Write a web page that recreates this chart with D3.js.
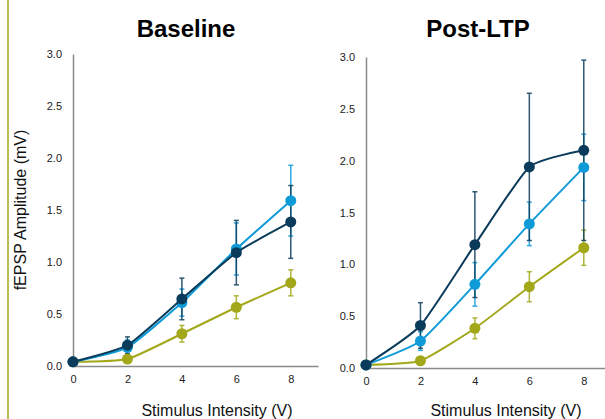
<!DOCTYPE html>
<html>
<head>
<meta charset="utf-8">
<script src="https://cdn.jsdelivr.net/npm/d3@7"></script>
<style>
  html, body { margin: 0; padding: 0; background: #fff; }
  svg { display: block; font-family: "Liberation Sans", Arial, sans-serif; }
</style>
</head>
<body>
<svg id="chart" width="605" height="419"></svg>
<script>
// ---- data ----
const intensities = [0, 2, 4, 6, 8];
const xTicks = [0, 2, 4, 6, 8];
const yTicks = [0, 0.5, 1.0, 1.5, 2.0, 2.5, 3.0];
const panelTitles = ["Baseline", "Post-LTP"];
const seriesNames = ["Series A", "Series B", "Series C"];
const seriesColors = ["#a2a819", "#0f9bd7", "#0b3b5b"];

// Baseline
const baseOlive = [0.04, 0.067, 0.31, 0.565, 0.80];
const baseOliveErr = [0.01, 0.02, 0.08, 0.11, 0.125];
const baseLight = [0.04, 0.18, 0.61, 1.125, 1.59];
const baseLightErr = [0.01, 0.07, 0.13, 0.25, 0.34];
const baseNavy = [0.04, 0.20, 0.645, 1.09, 1.385];
const baseNavyErr = [0.01, 0.08, 0.20, 0.31, 0.35];

// Post-LTP
const postOlive = [0.03, 0.07, 0.383, 0.784, 1.16];
const postOliveErr = [0.01, 0.02, 0.10, 0.145, 0.17];
const postLight = [0.03, 0.26, 0.807, 1.39, 1.935];
const postLightErr = [0.01, 0.09, 0.21, 0.21, 0.32];
const postNavy = [0.03, 0.41, 1.19, 1.94, 2.10];
const postNavyErr = [0.01, 0.22, 0.51, 0.71, 0.87];

const panels = [
  { title: panelTitles[0], xr: [73, 318], yr: [366, 54], titleX: 186, xTitleX: 217,
    series: [
      { v: baseOlive, e: baseOliveErr, c: seriesColors[0] },
      { v: baseLight, e: baseLightErr, c: seriesColors[1] },
      { v: baseNavy, e: baseNavyErr, c: seriesColors[2] } ] },
  { title: panelTitles[1], xr: [366, 611], yr: [368, 57], titleX: 478, xTitleX: 506,
    series: [
      { v: postOlive, e: postOliveErr, c: seriesColors[0] },
      { v: postLight, e: postLightErr, c: seriesColors[1] },
      { v: postNavy, e: postNavyErr, c: seriesColors[2] } ] }
];

const svg = d3.select("#chart");

// left olive border line
svg.append("line").attr("x1", 8).attr("x2", 8).attr("y1", 0).attr("y2", 419)
  .attr("stroke", "#a2a819").attr("stroke-width", 1.5);

// y axis title
svg.append("text")
  .attr("transform", "translate(26,210) rotate(-90)")
  .attr("text-anchor", "middle")
  .attr("font-size", 16).attr("fill", "#111")
  .text("fEPSP Amplitude (mV)");

panels.forEach(p => {
  const x = d3.scaleLinear().domain([0, 9]).range(p.xr);
  const y = d3.scaleLinear().domain([0, 3]).range(p.yr);
  const g = svg.append("g");

  // axes
  const xAxis = g.append("g").attr("transform", `translate(0,${p.yr[0]})`)
    .call(d3.axisBottom(x).tickValues(xTicks).tickSize(0).tickPadding(9).tickFormat(d3.format("d")));
  const yAxis = g.append("g").attr("transform", `translate(${p.xr[0]},0)`)
    .call(d3.axisLeft(y).tickValues(yTicks).tickSize(0).tickPadding(11).tickFormat(d3.format(".1f")));
  [xAxis, yAxis].forEach(a => {
    a.select(".domain").attr("stroke", "#8a8a8a").attr("stroke-width", 1.5);
    a.selectAll("text").attr("font-size", 11).attr("fill", "#222")
      .attr("font-family", "Liberation Sans, Arial, sans-serif");
  });

  // title
  g.append("text").attr("x", p.titleX).attr("y", 37).attr("text-anchor", "middle")
    .attr("font-size", 24).attr("font-weight", "bold").attr("fill", "#000").text(p.title);
  // x title
  g.append("text").attr("x", p.xTitleX).attr("y", 416).attr("text-anchor", "middle")
    .attr("font-size", 16).attr("fill", "#111").text("Stimulus Intensity (V)");

  const line = d3.line().curve(d3.curveCardinal.tension(0.5))
    .x((d, i) => x(intensities[i])).y(d => y(d));

  p.series.forEach(s => {
    // error bars
    const eb = g.append("g").attr("stroke", s.c).attr("stroke-width", 1.5).attr("opacity", 0.85);
    s.v.forEach((v, i) => {
      const cx = x(intensities[i]);
      const top = y(v + s.e[i]), bot = y(v - s.e[i]);
      eb.append("line").attr("x1", cx).attr("x2", cx).attr("y1", top).attr("y2", bot);
      eb.append("line").attr("x1", cx - 2.5).attr("x2", cx + 2.5).attr("y1", top).attr("y2", top);
      eb.append("line").attr("x1", cx - 2.5).attr("x2", cx + 2.5).attr("y1", bot).attr("y2", bot);
    });
  });
  p.series.forEach(s => {
    g.append("path").datum(s.v).attr("d", line)
      .attr("fill", "none").attr("stroke", s.c).attr("stroke-width", 2);
    g.selectAll(null).data(s.v).enter().append("circle")
      .attr("cx", (d, i) => x(intensities[i])).attr("cy", d => y(d))
      .attr("r", 5.5).attr("fill", s.c);
  });
});
</script>
</body>
</html>
